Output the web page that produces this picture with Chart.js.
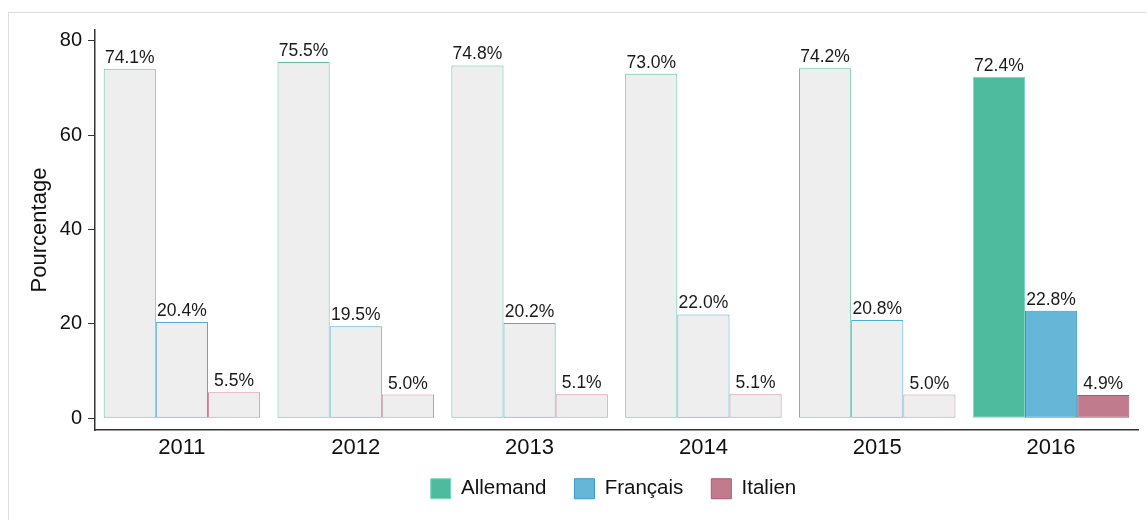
<!DOCTYPE html>
<html>
<head>
<meta charset="utf-8">
<script src="https://cdn.jsdelivr.net/npm/chart.js@4"></script>
<style>
  html, body { margin: 0; padding: 0; background: #fff; overflow: hidden; }
  #frame {
    position: absolute; left: 8px; top: 12px;
    width: 1300px; height: 700px;
    border: 1px solid #dddddd;
  }
  #wrap { position: absolute; left: 0; top: 0; width: 1147px; height: 520px; }
</style>
</head>
<body>
<div id="frame"></div>
<div id="wrap"><canvas id="voteChart" width="1147" height="520"></canvas></div>
<script>
// ====== données ======
const years = ["2011", "2012", "2013", "2014", "2015", "2016"];
const allemand = [74.1, 75.5, 74.8, 73.0, 74.2, 72.4];
const francais = [20.4, 19.5, 20.2, 22.0, 20.8, 22.8];
const italien = [5.5, 5.0, 5.1, 5.1, 5.0, 4.9];
const yTicks = [0, 20, 40, 60, 80];
const highlightYear = "2016";

const GREY = "#eeeeee";
const FONT = "'Liberation Sans', Arial, sans-serif";

// couleurs: la dernière année est pleine, les autres grisées
function fills(color) {
    return years.map(y => y === highlightYear ? color : GREY);
}
function borders(light, dark) {
    return years.map(y => y === highlightYear ? dark : light);
}

const series = [
    { label: "Allemand", data: allemand, fill: "#4ebb9f", light: "#5cc3a7", dark: "#7fd4be" },
    { label: "Français", data: francais, fill: "#66b7d7", light: "#4eacd6", dark: "#3399cc" },
    { label: "Italien", data: italien, fill: "#c07c8c", light: "#d48ea1", dark: "#b05570" }
];

// ====== étiquettes de valeur au-dessus des barres ======
const valueLabels = {
    id: "valueLabels",
    afterDatasetsDraw(chart) {
        const ctx = chart.ctx;
        ctx.save();
        ctx.font = "17.5px " + FONT;
        ctx.fillStyle = "#1a1a1a";
        ctx.textAlign = "center";
        ctx.textBaseline = "alphabetic";
        chart.data.datasets.forEach((ds, i) => {
            chart.getDatasetMeta(i).data.forEach((bar, j) => {
                ctx.fillText(ds.data[j].toFixed(1) + "%", bar.x, bar.y - 6);
            });
        });
        ctx.restore();
    }
};

// légende centrée sur la zone du graphique, un peu remontée
const legendOnArea = {
    id: "legendOnArea",
    afterLayout(chart) {
        const lg = chart.legend;
        if (!lg) return;
        lg.left = chart.chartArea.left - 3;
        lg.right = chart.chartArea.right - 3;
        lg.width = lg.right - lg.left;
        lg.top -= 11;
        lg.bottom -= 11;
        if (lg.adjustHitBoxes) lg.adjustHitBoxes();
    }
};

const ctx = document.getElementById("voteChart").getContext("2d");

new Chart(ctx, {
    type: "bar",
    data: {
        labels: years,
        datasets: series.map(s => ({
            label: s.label,
            data: s.data,
            backgroundColor: fills(s.fill),
            borderColor: borders(s.light, s.dark),
            borderWidth: 1,
            borderSkipped: false,
            categoryPercentage: 0.9,
            barPercentage: 1.0
        }))
    },
    options: {
        responsive: false,
        animation: false,
        devicePixelRatio: 1,
        layout: { padding: { left: 0, right: 9, top: 30, bottom: 0 } },
        plugins: {
            tooltip: { enabled: false },
            legend: {
                display: true,
                position: "bottom",
                labels: {
                    boxWidth: 20,
                    boxHeight: 20,
                    padding: 28,
                    color: "#111",
                    font: { size: 20.5, family: FONT },
                    generateLabels(chart) {
                        return series.map((s, i) => ({
                            text: s.label,
                            fillStyle: s.fill,
                            strokeStyle: s.dark,
                            fontColor: "#111",
                            lineWidth: 1,
                            hidden: false,
                            datasetIndex: i
                        }));
                    }
                }
            }
        },
        scales: {
            x: {
                grid: { display: false, drawTicks: false },
                border: { display: true, color: "#333", width: 1.5 },
                ticks: {
                    color: "#111",
                    padding: 5,
                    maxRotation: 0,
                    font: { size: 22, family: FONT }
                },
                afterFit(scale) { scale.height = 31.5; }
            },
            y: {
                min: -2.5,
                max: 82.3,
                grid: { drawOnChartArea: false, drawTicks: true, tickLength: 7, color: "#333" },
                border: { display: true, color: "#333", width: 1.5 },
                afterBuildTicks(scale) {
                    scale.ticks = yTicks.map(v => ({ value: v }));
                },
                ticks: {
                    color: "#111",
                    padding: 6,
                    font: { size: 20, family: FONT }
                },
                title: {
                    display: true,
                    text: "Pourcentage",
                    color: "#111",
                    padding: { top: 26.5, bottom: 0 },
                    font: { size: 22, family: FONT }
                },
                afterFit(scale) { scale.width = 95; }
            }
        }
    },
    plugins: [valueLabels, legendOnArea]
});
</script>
</body>
</html>
